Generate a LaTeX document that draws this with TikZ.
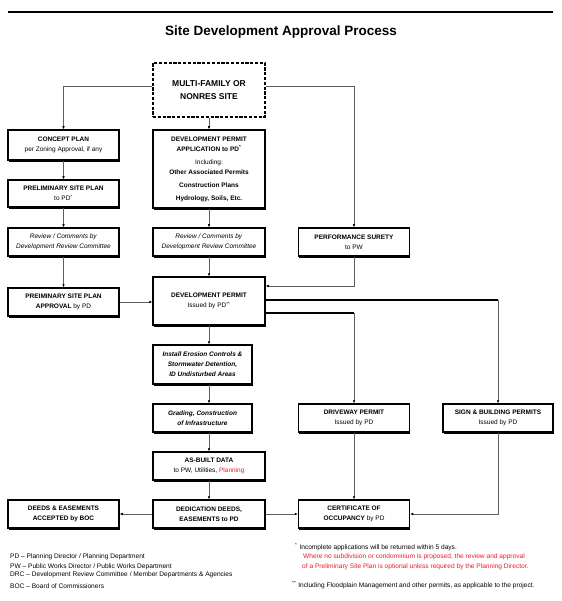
\documentclass[tikz,border=0pt]{standalone}
\usepackage{fontspec}
\setmainfont{Liberation Sans}
\usepackage{tikz}
\usepackage{xcolor}
\usetikzlibrary{arrows.meta, shadows, positioning}

\definecolor{notered}{RGB}{235,25,35}
\definecolor{linkgray}{RGB}{95,95,95}

\begin{document}
\begin{tikzpicture}[x=1pt, y=1pt, node distance=50pt, on grid,
    box/.style={rectangle, draw, line width=1.1pt, fill=white, inner sep=1pt, align=center,
        minimum width=111pt, minimum height=28pt, font=\fontsize{6.5}{10}\selectfont,
        drop shadow={shadow xshift=0.7pt, shadow yshift=-1.7pt, opacity=1, fill=black}},
    startbox/.style={rectangle, draw, line width=1.1pt, dash pattern=on 3.2pt off 1.6pt,
        inner sep=1pt, align=center, font=\fontsize{8.5}{13}\selectfont\bfseries},
    link/.style={draw=linkgray, line width=0.7pt, -{Latex[length=3.2pt, width=2.6pt, color=black]}},
    feed/.style={draw=black, line width=2.2pt},
    note/.style={anchor=west, inner sep=0pt, font=\fontsize{6.6}{8}\selectfont}]

    \useasboundingbox (0,0) rectangle (561,-601);

    \draw[line width=2.4pt] (8,-12) -- (553,-12);
    \node[font=\fontsize{13.5}{16}\selectfont\bfseries] (title) at (281,-32) {Site Development Approval Process};

    % centre column
    \node[startbox, minimum width=112pt, minimum height=54pt] (multi) at (209,-90) {MULTI-FAMILY OR\\NONRES SITE};

    \node[box, minimum width=112pt, minimum height=78pt, below=79pt of multi] (devapp) {\textbf{DEVELOPMENT PERMIT}\\
        \textbf{APPLICATION to PD\textsuperscript{*}}\\[3pt]
        Including:\\
        \textbf{Other Associated Permits}\\[3pt]
        \textbf{Construction Plans}\\[3pt]
        \textbf{Hydrology, Soils, Etc.}};

    \node[box, minimum width=112pt, below=73pt of devapp] (reviewC) {\textit{Review / Comments by}\\\textit{Development Review Committee}};

    \node[box, minimum width=112pt, minimum height=48pt, below=59pt of reviewC] (devpermit) {\textbf{DEVELOPMENT PERMIT}\\Issued by PD\textsuperscript{**}};

    \node[box, minimum width=99pt, minimum height=39pt, below left=63.5pt and 6.5pt of devpermit] (install) {\textbf{\textit{Install Erosion Controls \&}}\\
        \textbf{\textit{Stormwater Detention,}}\\
        \textbf{\textit{ID Undisturbed Areas}}};

    \node[box, minimum width=99pt, below=53.5pt of install] (grading) {\textbf{\textit{Grading, Construction}}\\\textbf{\textit{of Infrastructure}}};

    \node[box, minimum width=112pt, below right=48pt and 6.5pt of grading] (asbuilt) {\textbf{AS-BUILT DATA}\\to PW, Utilities, {\color{notered}Planning}};

    \node[box, minimum width=112pt, below=48pt of asbuilt] (dedication) {\textbf{DEDICATION DEEDS,}\\\textbf{EASEMENTS to PD}};

    % left column
    \node[box, left=145.5pt of reviewC] (reviewL) {\textit{Review / Comments by}\\\textit{Development Review Committee}};
    \node[box, minimum height=27pt, above=48.5pt of reviewL] (prelim) {\textbf{PRELIMINARY SITE PLAN}\\to PD\textsuperscript{*}};
    \node[box, minimum height=30pt, above=48.5pt of prelim] (concept) {\textbf{CONCEPT PLAN}\\per Zoning Approval, if any};
    \node[box, below=60pt of reviewL] (prelimapp) {\textbf{PREIMINARY SITE PLAN}\\\textbf{APPROVAL} by PD};
    \node[box, left=145.5pt of dedication] (deeds) {\textbf{DEEDS \& EASEMENTS}\\\textbf{ACCEPTED by BOC}};

    % right columns
    \node[box, right=145pt of dedication] (cert) {\textbf{CERTIFICATE OF}\\\textbf{OCCUPANCY} by PD};
    \node[box, above=96pt of cert] (driveway) {\textbf{DRIVEWAY PERMIT}\\Issued by PD};
    \node[box, minimum width=110pt, right=144pt of driveway] (sign) {\textbf{SIGN \& BUILDING PERMITS}\\Issued by PD};
    \node[box, above=176pt of driveway] (perf) {\textbf{PERFORMANCE SURETY}\\to PW};

    % connectors
    \draw[link] ([yshift=4pt]multi.west) -| (concept.north);
    \draw[link] ([yshift=4pt]multi.east) -| (perf.north);

    \path[link]
    (multi) edge (devapp)
    (devapp) edge (reviewC)
    (reviewC) edge (devpermit)
    (concept) edge (prelim)
    (prelim) edge (reviewL)
    (reviewL) edge (prelimapp)
    (asbuilt) edge (dedication)
    (dedication) edge (deeds)
    (dedication) edge (cert)
    (driveway) edge (cert);

    \draw[link] (prelimapp.east) -- (prelimapp.east -| devpermit.west);
    \draw[link] (perf.south) |- ([yshift=15pt]devpermit.east);

    \draw[feed] ([yshift=1pt]devpermit.east) -- ([yshift=1pt]devpermit.east -| sign.north) coordinate (signtap);
    \draw[link] (signtap) -- (sign.north);
    \draw[feed] ([yshift=-12pt]devpermit.east) -- ([yshift=-12pt]devpermit.east -| driveway.north) coordinate (drivetap);
    \draw[link] (drivetap) -- (driveway.north);

    \draw[link] (devpermit.south) -- (devpermit.south |- install.north);
    \draw[link] (install.south -| devpermit.south) -- (grading.north -| devpermit.south);
    \draw[link] (grading.south -| devpermit.south) -- (asbuilt.north);
    \draw[link] (sign.south) |- (cert.east);

    % legend and notes
    \node[note] (legpd) at (10,-557) {PD -- Planning Director / Planning Department};
    \node[note] (legpw) at (10,-567) {PW -- Public Works Director / Public Works Department};
    \node[note] (legdrc) at (10,-575) {DRC -- Development Review Committee / Member Departments \& Agencies};
    \node[note] (legboc) at (10,-586) {BOC -- Board of Commissioners};

    \node[note] (noteone) at (295,-547) {\textsuperscript{*}\hspace{2pt}Incomplete applications will be returned within 5 days.};
    \node[note, text=notered] (notetwo) at (303,-557) {Where no subdivision or condominium is proposed, the review and approval};
    \node[note, text=notered] (notethree) at (302,-567) {of a Preliminary Site Plan is optional unless required by the Planning Director.};
    \node[note] (notefour) at (292,-585) {\textsuperscript{**}\hspace{2pt}Including Floodplain Management and other permits, as applicable to the project.};

\end{tikzpicture}
\end{document}
